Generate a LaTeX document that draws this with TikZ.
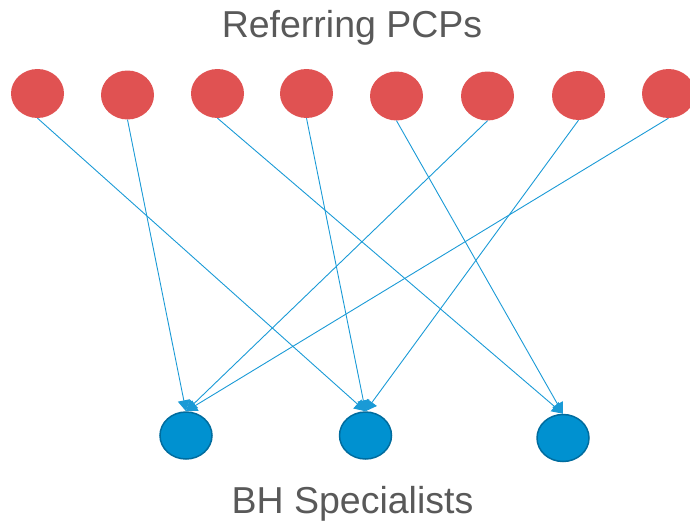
\documentclass[tikz,border=0pt]{standalone}
\usepackage{fontspec}
\setmainfont{Liberation Sans}
\usetikzlibrary{shapes.geometric,arrows.meta}

\definecolor{pcpred}{RGB}{224,82,82}
\definecolor{bhblue}{RGB}{0,145,208}
\definecolor{bhedge}{RGB}{0,108,158}
\definecolor{linkblue}{RGB}{26,154,214}
\definecolor{labelgray}{RGB}{89,89,89}

\begin{document}
\begin{tikzpicture}[x=1pt,y=-1pt,
  pcp/.style={ellipse,fill=pcpred,minimum width=53pt,minimum height=49pt,inner sep=0pt},
  bh/.style={ellipse,fill=bhblue,draw=bhedge,line width=1.5pt,minimum width=52pt,minimum height=47pt,inner sep=0pt},
  link/.style={draw=linkblue,line width=0.9pt,-{Triangle[length=11pt,width=12pt]}},
  title/.style={text=labelgray,font=\fontsize{37.5}{42}\selectfont,anchor=base}]
\useasboundingbox (0,0) rectangle (690,525);
\clip (0,0) rectangle (690,525);
% referring PCPs
\node[pcp] (p1) at (37.5,93.5) {};
\node[pcp] (p2) at (127.5,95) {};
\node[pcp] (p3) at (217.5,93.5) {};
\node[pcp] (p4) at (306.5,93.5) {};
\node[pcp] (p5) at (396.5,96) {};
\node[pcp] (p6) at (487.5,96) {};
\node[pcp] (p7) at (578.5,95.5) {};
\node[pcp] (p8) at (668.5,93.5) {};
% BH specialists
\node[bh] (b1) at (186,435.5) {};
\node[bh] (b2) at (365.5,435.5) {};
\node[bh] (b3) at (563,438) {};
% labels
\node[title] (top) at (352,37) {Referring PCPs};
\node[title] (bottom) at (352.5,513) {BH Specialists};
% referrals
\draw[link] (p1.south) -- (b2.north);
\draw[link] (p2.south) -- (b1.north);
\draw[link] (p3.south) -- (b3.north);
\draw[link] (p4.south) -- (b2.north);
\draw[link] (p5.south) -- (b3.north);
\draw[link] (p6.south) -- (b1.north);
\draw[link] (p7.south) -- (b2.north);
\draw[link] (p8.south) -- (b1.north);
\end{tikzpicture}
\end{document}
